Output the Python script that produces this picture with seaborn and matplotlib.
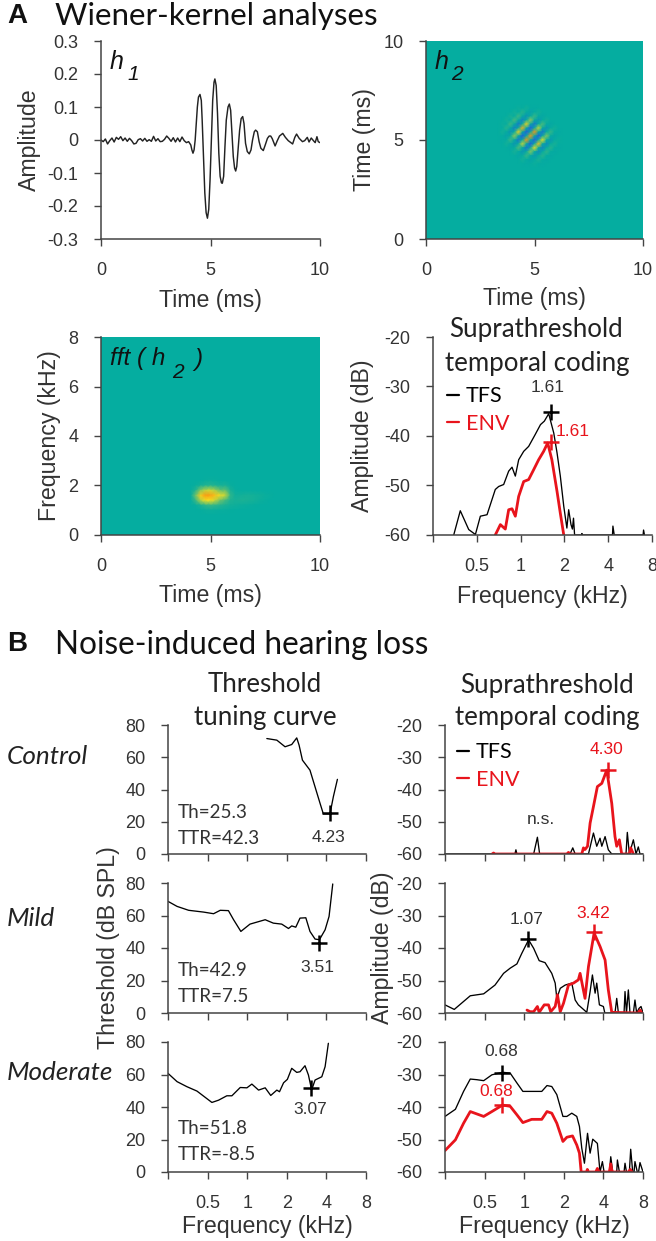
import numpy as np
import matplotlib
matplotlib.use("Agg")
import matplotlib.pyplot as plt
from matplotlib.colors import LinearSegmentedColormap
from matplotlib.lines import Line2D
import seaborn as sns

W, H = 656, 1241
ARIAL = "Liberation Sans"
CALIBRI = "Lato"
DARK = "#333333"

# --- h1 kernel ---
h1_time = [0, .1, .2, .3, .4, .5, .6, .7, .8, .9, 1.0, 1.1, 1.2, 1.3, 1.4, 1.5, 1.6, 1.7, 1.8, 1.9,
           2.0, 2.1, 2.2, 2.3, 2.4, 2.5, 2.6, 2.7, 2.8, 2.9, 3.0, 3.1, 3.2, 3.3, 3.4, 3.5, 3.6, 3.7, 3.8, 3.9,
           4.0, 4.1, 4.15, 4.2, 4.25, 4.3, 4.35, 4.4, 4.45, 4.52, 4.58, 4.62, 4.68, 4.74, 4.8, 4.86, 4.92,
           4.98, 5.04, 5.1, 5.16, 5.2, 5.26, 5.32, 5.38, 5.44, 5.5, 5.54, 5.6, 5.66, 5.72, 5.8, 5.86, 5.92,
           5.98, 6.04, 6.1, 6.15, 6.2, 6.27, 6.33, 6.4, 6.47, 6.53, 6.6, 6.68, 6.77, 6.85, 6.92, 7.0, 7.06,
           7.14, 7.22, 7.3, 7.41, 7.5, 7.6, 7.68, 7.75, 7.82, 7.95, 8.05, 8.15, 8.3, 8.42, 8.55, 8.75, 8.85,
           8.93, 9.05, 9.2, 9.3, 9.42, 9.5, 9.6, 9.7, 9.78, 9.86, 9.92, 10]
h1_amp = [0, -.005, .003, -.012, -.002, .006, -.006, .008, .002, .01, -.002, .006, -.004, .005, -.002,
          -.012, -.01, .001, .004, -.003, .005, -.004, .001, -.004, .011, -.003, .004, -.005, -.004, .002,
          .012, .005, -.004, .007, -.006, .006, -.005, .009, -.002, -.008,
          -.005, -.015, -.03, -.04, -.03, 0, .05, .10, .13, .138, .12, .06, -.05, -.16, -.22, -.237, -.21,
          -.12, 0, .12, .175, .185, .165, .08, -.04, -.11, -.13, -.131, -.11, -.02, .06, .10, .109, .09,
          .02, -.05, -.085, -.094, -.08, -.02, .03, .065, .071, .05, -.01, -.035, -.042, -.03, 0, .025, .03,
          .025, -.005, -.025, -.032, -.015, .005, .012, .012, .004, -.018, -.002, .012, .02, .008, -.002,
          -.012, .008, .018, .005, -.005, -.002, .008, -.006, .006, -.002, -.008, .01, -.005, -.008]

# --- h2 map: patch of the centre of the kernel, everything else is the background value ---
h2_background = 0.0
h2_patch = [
    [0, 0, 0, 0, .02, 0, .04, 0, -.02, 0, 0, 0, 0, 0, 0],
    [0, 0, 0, .04, 0, .10, 0, -.08, 0, .04, 0, 0, 0, 0, 0],
    [0, 0, .05, 0, .17, 0, -.20, 0, .15, 0, -.04, 0, 0, 0, 0],
    [0, .04, 0, .20, 0, -.34, 0, .38, 0, -.17, 0, .05, 0, 0, 0],
    [.02, 0, .17, 0, -.40, 0, .64, 0, -.43, 0, .20, 0, -.04, 0, 0],
    [0, .10, 0, -.34, 0, .75, 0, -.72, 0, .50, 0, -.17, 0, .04, 0],
    [.04, 0, -.20, 0, .64, 0, -.85, 0, .85, 0, -.43, 0, .14, 0, -.02],
    [0, -.08, 0, .38, 0, -.72, 0, 1.15, 0, -.72, 0, .35, 0, -.06, 0],
    [-.02, 0, .15, 0, -.43, 0, .85, 0, -.85, 0, .60, 0, -.15, 0, .02],
    [0, .04, 0, -.17, 0, .50, 0, -.72, 0, .70, 0, -.26, 0, .06, 0],
    [0, 0, -.04, 0, .20, 0, -.43, 0, .60, 0, -.30, 0, .10, 0, -.02],
    [0, 0, 0, .05, 0, -.17, 0, .35, 0, -.26, 0, .12, 0, -.03, 0],
    [0, 0, 0, 0, -.04, 0, .14, 0, -.15, 0, .10, 0, -.03, 0, 0],
    [0, 0, 0, 0, 0, .04, 0, -.06, 0, .06, 0, -.03, 0, 0, 0],
    [0, 0, 0, 0, 0, 0, -.02, 0, .02, 0, -.02, 0, 0, 0, 0],
]
# --- fft(h2) map ---
fft_patch = [
    [0, 0, 0, .02, .03, .02, 0, 0, 0, 0, 0, 0, 0, 0, 0, 0, 0],
    [0, .02, .08, .14, .16, .12, .08, .10, .03, 0, 0, 0, 0, 0, 0, 0, 0],
    [0, .15, .60, .80, .85, .70, .45, .45, .10, .02, 0, 0, 0, 0, 0, 0, 0],
    [0, .50, 1.10, 1.40, 1.35, 1.15, .95, .80, .20, .05, .06, .08, .08, .06, .05, .03, .02],
    [0, .25, .75, 1.00, 1.00, .80, .50, .30, .12, .08, .10, .10, .08, .06, .04, .02, 0],
    [0, .02, .10, .20, .25, .20, .15, .10, .06, .05, .04, .03, .02, .01, 0, 0, 0],
    [0, 0, .01, .03, .04, .03, .02, .02, .01, 0, 0, 0, 0, 0, 0, 0, 0],
]

# --- panel A suprathreshold ---
a_tfs_f = [.347, .385, .44, .489, .529, .588, .67, .707, .765, .828, .873, .92, .97, 1.05, 1.136, 1.26, 1.37,
           1.456, 1.56, 1.69, 1.78, 1.875, 1.98, 2.08, 2.14, 2.22, 2.27, 2.31, 2.35, 2.62, 2.64, 2.66, 4.28, 4.31,
           4.4, 6.95, 7.0, 7.1]
a_tfs_db = [-60, -55.1, -58.9, -59.9, -56.2, -55.9, -50.8, -50.2, -49.8, -47.1, -46.3, -48.1, -44.8, -43.1,
            -42.1, -39.7, -37.7, -37.0, -35.5, -39.4, -43.4, -48.1, -54.2, -58.6, -54.9, -57.9, -58.8, -56.6,
            -60, -60, -59.7, -60, -60, -58.2, -60, -60, -59, -60]
a_env_f = [.67, .726, .785, .828, .873, .92, .97, 1.05, 1.136, 1.23, 1.33, 1.44, 1.535, 1.64, 1.78, 1.875, 1.98]
a_env_db = [-60, -57.9, -58.8, -54.9, -54.7, -56.2, -52.2, -49.2, -48.8, -46.8, -44.8, -43.1, -41.4, -44.8,
            -51.2, -55.6, -60]

# --- panel B threshold tuning curves ---
ctl_f = [1.41, 1.68, 1.94, 2.18, 2.38, 2.48, 2.63, 3.0, 3.28, 3.58, 3.79, 4.26, 4.52, 4.85]
ctl_th = [71.6, 70.6, 66.5, 67.9, 72, 67.5, 58.2, 52, 41.6, 31.4, 24.9, 24.9, 35.6, 46.3]
mild_f = [.25, .293, .359, .466, .555, .624, .72, .788, .895, 1.05, 1.37, 1.58, 1.83, 2.06, 2.18, 2.34, 2.52,
          2.79, 3.0, 3.28, 3.54, 3.91, 4.19, 4.47]
mild_th = [68.7, 65.6, 63.2, 62.1, 61.1, 63.2, 63, 57.4, 50.2, 54.7, 57.4, 55.3, 54.7, 52, 53.6, 52.8, 58.4,
           58.6, 50.2, 45.5, 45.1, 51.2, 59.4, 79.4]
mod_f = [.25, .293, .348, .415, .539, .606, .70, .765, .885, .995, 1.085, 1.22, 1.37, 1.51, 1.68, 1.76, 1.89,
         2.02, 2.18, 2.38, 2.52, 2.75, 2.92, 3.09, 3.28, 3.69, 3.91, 4.14]
mod_th = [60.7, 55.6, 52.5, 49.8, 42.8, 44.2, 46.9, 46.9, 52, 51.8, 54.1, 50.4, 51.8, 47.1, 50.4, 49.4, 54.9,
          57, 63.8, 61.3, 61.7, 65.4, 59.7, 50.5, 56.6, 58.6, 64.8, 79.2]

# --- panel B suprathreshold ---
ctl_tfs_f = [.25, .85, .865, .88, .90, 1.15, 1.18, 1.26, 1.31, 2.2, 2.23, 2.34, 2.44, 3.08, 3.36, 3.56, 3.77,
             3.89, 4.12, 4.36, 4.63, 5.94, 6.08, 6.3, 6.76, 7.08, 7.37, 7.59, 8]
ctl_tfs_db = [-60, -60, -58.7, -60, -60, -60, -60, -54.8, -60, -60, -60, -58.1, -60, -60, -53.5, -57.6, -55.1,
              -57.6, -54.6, -58.7, -60, -60, -53.3, -60, -55.6, -60, -57.8, -60, -60]
ctl_env_f = [.57, .585, .60, 2.11, 2.17, 2.23, 2.74, 2.82, 2.9, 3.03, 3.17, 3.36, 3.6, 3.89, 4.24, 4.63, 4.9,
             5.05, 5.29, 5.51, 6.3, 6.45, 6.76]
ctl_env_db = [-60, -59.7, -60, -60, -59.5, -60, -60, -58.1, -58.6, -57.6, -50.4, -45.3, -39.1, -38.1, -34,
              -44.3, -54.6, -57.6, -55.6, -60, -60, -58.1, -60]
mild_tfs_f = [.25, .294, .389, .492, .60, .697, .783, .88, .96, 1.08, 1.18, 1.3, 1.44, 1.62, 1.72, 1.77, 1.88,
              2.05, 2.3, 2.44, 2.58, 2.99, 3.17, 3.3, 3.46, 3.56, 3.73, 4, 4.1, 4.9, 5.05, 5.2, 5.74, 5.84, 5.99,
              6.19, 6.37, 6.76, 6.95, 7.16, 7.46, 7.73, 8]
mild_tfs_db = [-57.5, -58.9, -54.7, -54.1, -51.4, -47.8, -46.2, -44.9, -41.6, -37.5, -40.1, -43.9, -44.5, -47.8,
               -50.8, -55.5, -52.4, -51.4, -50.8, -56, -57.5, -59.8, -53.4, -48.3, -53.9, -50.8, -57.5, -58, -60,
               -60, -55.5, -60, -60, -53.4, -60, -52.9, -60, -60, -56, -60, -58.6, -58, -60]
mild_env_f = [1.05, 1.11, 1.18, 1.26, 1.3, 1.42, 1.53, 1.59, 1.72, 1.79, 1.88, 1.99, 2.17, 2.37, 2.58, 2.66, 2.9,
              3.08, 3.4, 3.77, 4.12, 4.36, 4.63, 7.37, 7.59, 7.82]
mild_env_db = [-59.1, -59.6, -59.6, -58, -59.8, -57.5, -57.5, -59.6, -58, -54.4, -59.6, -57, -51.4, -50.8, -49.8,
               -47.8, -55.5, -45.7, -35.4, -39.5, -43.7, -52.9, -59.8, -60, -59.1, -60]
mod_tfs_f = [.25, .30, .346, .389, .437, .492, .568, .685, .783, .88, .977, 1.14, 1.36, 1.49, 1.62, 1.77, 1.97,
             2.11, 2.3, 2.51, 2.63, 2.74, 2.87, 3.03, 3.17, 3.32, 3.6, 3.77, 3.93, 4.05, 4.44, 4.55, 4.71, 5.05,
             5.11, 5.29, 5.74, 5.84, 5.99, 6.3, 6.45, 6.68, 6.84, 6.95, 7.24, 7.4, 7.59, 8]
mod_tfs_db = [-42.9, -40.7, -35.2, -31.4, -31.6, -31.9, -30.1, -29.3, -29.6, -32.6, -35.2, -35.2, -35.2, -33.4,
              -33.7, -36.2, -42.9, -42.9, -41.9, -42.9, -46, -52.7, -57.3, -48.1, -54.2, -49.9, -51.2, -60, -56.8,
              -60, -60, -55.3, -60, -60, -56.3, -60, -60, -57.3, -60, -60, -53, -60, -60, -56.8, -60, -60, -57.1,
              -60]
mod_env_f = [.25, .30, .346, .389, .492, .568, .685, .783, .88, .977, 1.14, 1.36, 1.49, 1.62, 1.77, 1.97, 2.11,
             2.33, 2.51, 2.63, 2.71, 2.98, 3.02, 3.08, 3.5, 3.6, 3.7, 4.44, 4.55, 4.66, 6.2, 6.4, 6.6]
mod_env_db = [-53.4, -50.1, -45, -41.4, -42.9, -41.4, -39.4, -39.8, -42.4, -44.8, -43.8, -43.8, -41.4, -41.9, -45,
              -50.6, -49.3, -48.9, -51.7, -54.2, -60, -60, -59.2, -60, -60, -58.9, -60, -60, -57.5, -60, -60,
              -59.2, -60]

freq_ticks = [.25, .5, 1, 2, 4, 8]
freq_labels = ["", "0.5", "1", "2", "4", "8"]

kernel_cmap = LinearSegmentedColormap.from_list("kernel", [
    (0.0, "#1e5fe0"), (1 / 2.4, "#05ada0"), (1.5 / 2.4, "#6fc26a"),
    (2 / 2.4, "#f5e020"), (1.0, "#fa9a14")])

sns.set_theme(style="ticks")
plt.rcParams["font.family"] = [ARIAL, "DejaVu Sans"]
plt.rcParams["axes.edgecolor"] = "#444444"
plt.rcParams["xtick.color"] = "#444444"
plt.rcParams["ytick.color"] = "#444444"

fig = plt.figure(figsize=(W / 100, H / 100), dpi=100)


def make_axes(x0, y0, x1, y1):
    return fig.add_axes([x0 / W, 1 - y1 / H, (x1 - x0) / W, (y1 - y0) / H])


def label(x, y, s, size=12.5, color=DARK, ha="center", family=ARIAL, **kw):
    fig.text(x / W, 1 - y / H, s, fontsize=size, color=color, ha=ha, va="center", family=family, **kw)


def style(ax, box, xlabel=None, ylabel=None, xlabel_y=None, ylabel_x=None, ticklabels=True):
    x0, y0, x1, y1 = box
    ax.tick_params(axis="both", which="major", length=4.8, width=1.0, labelsize=13, labelcolor=DARK)
    ax.tick_params(axis="x", pad=12)
    ax.tick_params(axis="y", pad=11.5)
    if not ticklabels:
        ax.tick_params(axis="x", labelbottom=False)
    for side in ("left", "bottom"):
        ax.spines[side].set_visible(True)
        ax.spines[side].set_linewidth(1.1)
    if xlabel:
        ax.set_xlabel(xlabel, fontsize=16.7, color=DARK)
        ax.xaxis.set_label_coords(0.5, (y1 - xlabel_y) / (y1 - y0))
        ax.xaxis.label.set_va("center")
    else:
        ax.set_xlabel("")
    if ylabel:
        ax.set_ylabel(ylabel, fontsize=16.7, color=DARK)
        ax.yaxis.set_label_coords((ylabel_x - x0) / (x1 - x0), 0.5)
        ax.yaxis.label.set_va("center")
    else:
        ax.set_ylabel("")


def draw_line(ax, x, y, color="black", lw=0.95):
    sns.lineplot(x=x, y=y, ax=ax, color=color, linewidth=lw, estimator=None, sort=False, legend=False)


def plus(ax, x, y, color="black"):
    sns.scatterplot(x=[x], y=[y], ax=ax, marker="+", s=140, color=color, linewidth=1.8, legend=False, zorder=5)


def freq_axis(ax, ylim, yticks, ylabels=None):
    ax.set_xscale("log", base=2)
    ax.set_xlim(.25, 8)
    ax.set_xticks(freq_ticks)
    ax.set_xticklabels(freq_labels)
    ax.xaxis.set_minor_locator(matplotlib.ticker.NullLocator())
    ax.set_ylim(*ylim)
    ax.set_yticks(yticks)
    ax.set_yticklabels(ylabels if ylabels else [str(v) for v in yticks])
    sns.despine(ax=ax)


def tfs_env_legend(ax, x, y):
    handles = [Line2D([], [], color="black", lw=1.6), Line2D([], [], color=RED, lw=1.6)]
    leg = ax.legend(handles, ["TFS", "ENV"], loc="center left", frameon=False, borderpad=0, borderaxespad=0,
                    handlelength=0.55, handletextpad=0.32, labelspacing=0.36,
                    prop={"family": CALIBRI, "size": 15.5},
                    bbox_to_anchor=(x / W, 1 - y / H), bbox_transform=fig.transFigure)
    leg.get_texts()[0].set_color("black")
    leg.get_texts()[1].set_color(RED)


RED = "#e8141c"

# --- Panel A ---
box = (101, 41, 320, 239)
ax = make_axes(*box)
draw_line(ax, h1_time, h1_amp, color="#222222", lw=1.05)
ax.set_xlim(0, 10)
ax.set_ylim(-.3, .3)
ax.set_xticks([0, 5, 10])
ax.set_yticks([-.3, -.2, -.1, 0, .1, .2, .3])
ax.set_yticklabels(["-0.3", "-0.2", "-0.1", "0", "0.1", "0.2", "0.3"])
sns.despine(ax=ax)
style(ax, box, "Time (ms)", "Amplitude", 300, 29)

h2 = np.full((51, 55), h2_background)
h2[17:32, 19:34] = h2_patch
box = (426, 41, 643, 239)
ax = make_axes(*box)
# narrower range than fft map so the stripes reach yellow and deep blue
sns.heatmap(h2, ax=ax, cmap=kernel_cmap, vmin=-.6, vmax=.84, cbar=False, shading="gouraud",
            xticklabels=False, yticklabels=False)
ax.set_xlim(0, 54)
ax.set_ylim(50, 0)
ax.set_xticks([0, 27, 54])
ax.set_xticklabels(["0", "5", "10"], rotation=0)
ax.set_yticks([50, 25, 0])
ax.set_yticklabels(["0", "5", "10"], rotation=0)
style(ax, box, "Time (ms)", "Time (ms)", 299, 365)

fft_map = np.full((41, 45), h2_background)
fft_map[29:36, 18:35] = fft_patch
box = (101, 337, 320, 535)
ax = make_axes(*box)
sns.heatmap(fft_map, ax=ax, cmap=kernel_cmap, vmin=-1, vmax=1.4, cbar=False, shading="gouraud",
            xticklabels=False, yticklabels=False)
ax.set_xlim(0, 44)
ax.set_ylim(40, 0)
ax.set_xticks([0, 22, 44])
ax.set_xticklabels(["0", "5", "10"], rotation=0)
ax.set_yticks([40, 30, 20, 10, 0])
ax.set_yticklabels(["0", "2", "4", "6", "8"], rotation=0)
style(ax, box, "Time (ms)", "Frequency (kHz)", 596, 50)

box = (433, 337, 652, 535)
ax = make_axes(*box)
draw_line(ax, a_tfs_f, a_tfs_db)
draw_line(ax, a_env_f, a_env_db, color=RED, lw=2.0)
plus(ax, 1.61, -35.2)
plus(ax, 1.61, -41.3, color=RED)
freq_axis(ax, (-60, -20), [-60, -50, -40, -30, -20])
style(ax, box, "Frequency (kHz)", "Amplitude (dB)", 597, 362)
tfs_env_legend(ax, 447, 410)

# --- Panel B left ---
th_boxes = [(168, 725, 366, 854), (168, 883, 366, 1013), (168, 1042, 366, 1172)]
th_series = [(ctl_f, ctl_th, 4.23, 25.3), (mild_f, mild_th, 3.51, 42.9), (mod_f, mod_th, 3.07, 51.8)]
for i, (box, (f, th, best, thr)) in enumerate(zip(th_boxes, th_series)):
    ax = make_axes(*box)
    draw_line(ax, f, th)
    plus(ax, best, thr)
    freq_axis(ax, (0, 80), [0, 20, 40, 60, 80])
    style(ax, box, "Frequency (kHz)" if i == 2 else None, "Threshold (dB SPL)" if i == 1 else None,
          1227, 108, ticklabels=i == 2)

# --- Panel B right ---
amp_boxes = [(445, 725, 643, 854), (445, 883, 643, 1013), (445, 1042, 643, 1172)]
amp_series = [(ctl_tfs_f, ctl_tfs_db, ctl_env_f, ctl_env_db, None, 4.30, -33.9),
              (mild_tfs_f, mild_tfs_db, mild_env_f, mild_env_db, (1.07, -37.2), 3.42, -35),
              (mod_tfs_f, mod_tfs_db, mod_env_f, mod_env_db, (.68, -29.6), .68, -39.5)]
for i, (box, (tf, td, ef, ed, peak, env_f, env_db)) in enumerate(zip(amp_boxes, amp_series)):
    ax = make_axes(*box)
    draw_line(ax, tf, td)
    draw_line(ax, ef, ed, color=RED, lw=2.0)
    if peak:
        plus(ax, *peak)
    plus(ax, env_f, env_db, color=RED)
    freq_axis(ax, (-60, -20), [-60, -50, -40, -30, -20])
    style(ax, box, "Frequency (kHz)" if i == 2 else None, "Amplitude (dB)" if i == 1 else None,
          1227, 382, ticklabels=i == 2)
    if i == 0:
        tfs_env_legend(ax, 457, 766)

# --- Text ---
label(17, 16, "A", size=20, color="#111111", weight="bold")
label(55, 16, "Wiener-kernel analyses", size=22.6, ha="left", family=CALIBRI, color="#111111")
label(17, 644, "B", size=20, color="#111111", weight="bold")
label(55, 645, "Noise-induced hearing loss", size=22.7, ha="left", family=CALIBRI, color="#111111")

label(117, 62, "h", size=18, color="#111111", style="italic")
label(133, 75, "1", size=15, color="#111111", style="italic")
label(442, 62, "h", size=18, color="#111111", style="italic")
label(457, 75, "2", size=15, color="#111111", style="italic")
label(110, 358, "fft ( h", size=17.5, ha="left", color="#111111", style="italic")
label(178, 372, "2", size=15, color="#111111", style="italic")
label(198, 359, ")", size=17.5, color="#111111", style="italic")

label(536, 330, "Suprathreshold", size=18.6, family=CALIBRI, color="#222222")
label(537, 363, "temporal coding", size=18.6, family=CALIBRI, color="#222222")
label(265, 684, "Threshold", size=18.6, family=CALIBRI, color="#222222")
label(265, 718, "tuning curve", size=18.6, family=CALIBRI, color="#222222")
label(547, 685, "Suprathreshold", size=18.6, family=CALIBRI, color="#222222")
label(547, 718, "temporal coding", size=18.6, family=CALIBRI, color="#222222")

label(7, 757, "Control", size=18.8, ha="left", family=CALIBRI, style="italic", color="#222222")
label(7, 918, "Mild", size=18.8, ha="left", family=CALIBRI, style="italic", color="#222222")
label(7, 1072, "Moderate", size=18.8, ha="left", family=CALIBRI, style="italic", color="#222222")

for y, s in [(813, "Th=25.3"), (838, "TTR=42.3"), (971, "Th=42.9"), (996, "TTR=7.5"),
             (1129, "Th=51.8"), (1154, "TTR=-8.5")]:
    label(178, y, s, size=13.6, ha="left", family=CALIBRI)

label(329, 838, "4.23")
label(317, 967, "3.51")
label(310, 1110, "3.07")
label(548, 387, "1.61")
label(573, 431, "1.61", color=RED)
label(606, 750, "4.30", color=RED)
label(541, 820, "n.s.")
label(527, 920, "1.07")
label(593, 913, "3.42", color=RED)
label(501, 1052, "0.68")
label(496, 1091, "0.68", color=RED)

plt.savefig("out.png", dpi=100)
plt.close()
